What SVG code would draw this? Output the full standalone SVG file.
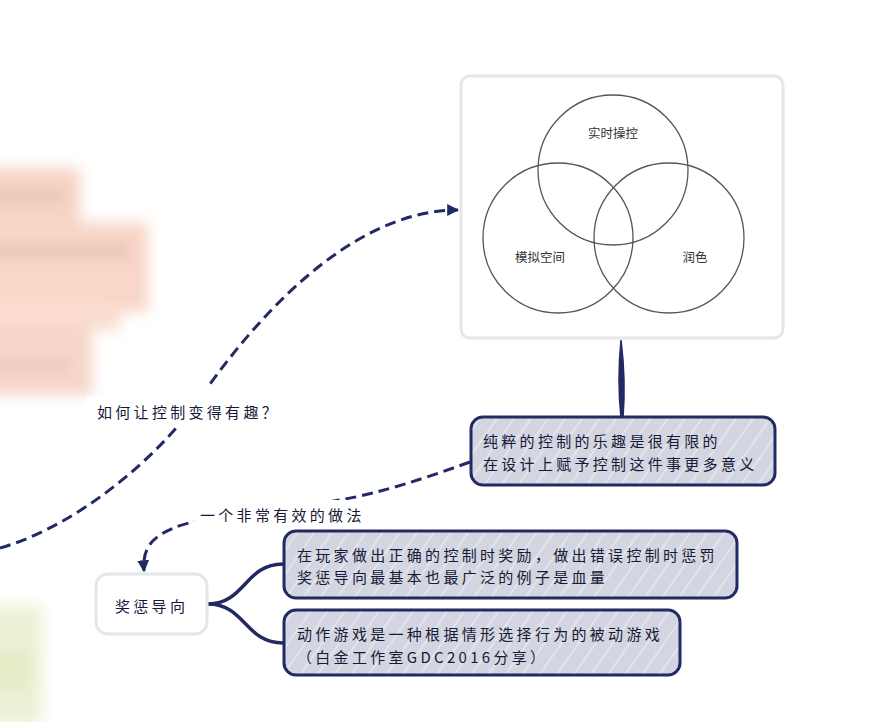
<svg xmlns="http://www.w3.org/2000/svg" width="869" height="722" viewBox="0 0 869 722">
<defs>
<style>
.t{font-family:"Noto Sans CJK SC","Noto Sans",sans-serif;font-size:15px;font-weight:400;fill:#161a38;letter-spacing:3.3px}
.v{font-family:"Noto Sans CJK SC","Noto Sans",sans-serif;font-size:12.5px;fill:#333;text-anchor:middle}
.box{fill:url(#hatch);stroke:#222a63;stroke-width:3}
.dash{fill:none;stroke:#222a63;stroke-width:3;stroke-dasharray:11 6}
.solid{fill:none;stroke:#222a63;stroke-width:3.5;stroke-linecap:round}
.circ{fill:none;stroke:#555;stroke-width:1.3}
</style>
<pattern id="hatch" patternUnits="userSpaceOnUse" width="14" height="14" patternTransform="rotate(-55)">
<rect width="14" height="14" fill="#d3d5e1"/>
<line x1="0" y1="3" x2="14" y2="3" stroke="#eceef4" stroke-width="1.2"/>
</pattern>
<marker id="arr" viewBox="0 0 10 10" refX="9" refY="5" markerWidth="4" markerHeight="4" orient="auto" markerUnits="strokeWidth">
<path d="M0 0 L10 5 L0 10 Z" fill="#222a63"/>
</marker>
<filter id="blur" x="-50%" y="-50%" width="200%" height="200%"><feGaussianBlur stdDeviation="7"/></filter>
</defs>
<rect width="869" height="722" fill="#fff"/>
<g id="blurred" filter="url(#blur)">
<rect x="-20" y="168" width="100" height="60" fill="#f6d4c6"/>
<rect x="-20" y="190" width="85" height="12" fill="#e6c3b5"/>
<rect x="-20" y="222" width="168" height="90" fill="#f8d6c8"/>
<rect x="-20" y="244" width="150" height="14" fill="#e8c5b6"/>
<rect x="-20" y="300" width="140" height="30" fill="#fadccf"/>
<rect x="-20" y="325" width="112" height="70" fill="#f6d6c9"/>
<rect x="-20" y="360" width="90" height="12" fill="#ecc9bb"/>
<rect x="-20" y="605" width="62" height="120" fill="#eef1d6"/>
<rect x="-20" y="650" width="50" height="40" fill="#e6eac6"/>
</g>
<g id="venn">
<rect x="461" y="76" width="322" height="262" rx="9" fill="#fff" stroke="#e6e6e8" stroke-width="3"/>
<circle class="circ" cx="613" cy="170" r="75"/>
<circle class="circ" cx="558" cy="238" r="75"/>
<circle class="circ" cx="669" cy="238" r="75"/>
<text class="v" x="613" y="138">实时操控</text>
<text class="v" x="540" y="262">模拟空间</text>
<text class="v" x="695" y="262">润色</text>
</g>
<g id="connectors">
<path d="M621 340 Q626 380 623 418 L621 418 Q617 380 621 340 Z" fill="#222a63" stroke="#222a63" stroke-width="1.5"/>
<path class="dash" d="M0 548 C80 525 160 455 200 398 S340 210 458 210" marker-end="url(#arr)"/>
<path class="dash" d="M470 462 C420 480 380 493 340 500 C250 515 190 515 160 535 C145 545 143 558 144 571" marker-end="url(#arr)"/>
<path class="solid" d="M208 604 C245 604 245 564 283 564"/>
<path class="solid" d="M208 604 C245 604 245 643 283 643"/>
</g>
<g id="label1">
<rect x="86" y="397" width="200" height="30" fill="#fff"/>
<rect x="138" y="387" width="150" height="12" fill="#fff"/>
<text class="t" x="97" y="418">如何让控制变得有趣？</text>
</g>
<g id="label2">
<rect x="194" y="500" width="176" height="26" fill="#fff"/>
<text class="t" x="200" y="521">一个非常有效的做法</text>
</g>
<g id="box1">
<rect class="box" x="471" y="417" width="304" height="68" rx="12"/>
<text class="t" x="483" y="447">纯粹的控制的乐趣是很有限的</text>
<text class="t" x="483" y="470">在设计上赋予控制这件事更多意义</text>
</g>
<g id="node-reward">
<rect x="96" y="574" width="111" height="60" rx="12" fill="#fff" stroke="#e6e6e8" stroke-width="3"/>
<text class="t" x="115" y="612">奖惩导向</text>
</g>
<g id="box2">
<rect class="box" x="284" y="531" width="453" height="67" rx="12"/>
<text class="t" x="297" y="561">在玩家做出正确的控制时奖励，做出错误控制时惩罚</text>
<text class="t" x="297" y="583">奖惩导向最基本也最广泛的例子是血量</text>
</g>
<g id="box3">
<rect class="box" x="284" y="610" width="396" height="65" rx="12"/>
<text class="t" x="297" y="640">动作游戏是一种根据情形选择行为的被动游戏</text>
<text class="t" x="297" y="663">（白金工作室GDC2016分享）</text>
</g>
</svg>
